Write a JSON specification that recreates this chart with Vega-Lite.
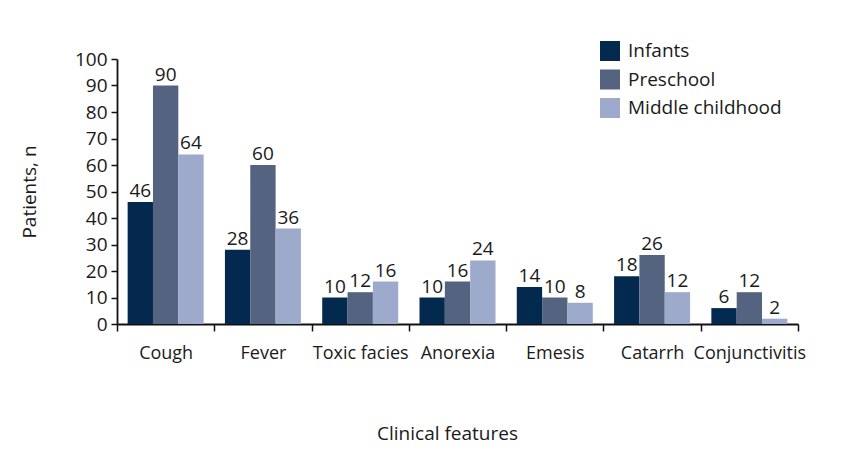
{
  "$schema": "https://vega.github.io/schema/vega-lite/v6.json",
  "width": 681,
  "height": 265,
  "autosize": {"type": "none"},
  "padding": {"left": 117, "top": 59, "right": 55, "bottom": 127},
  "background": "white",
  "config": {
    "font": "Open Sans",
    "view": {"stroke": null},
    "axis": {"labelColor": "#1a1a1a", "titleColor": "#1a1a1a", "titleFontWeight": "normal", "domainColor": "#111", "tickColor": "#111", "domainWidth": 1.8, "tickWidth": 1.5}
  },
  "data": {
    "values": [
      {"feature": "Cough", "group": "Infants", "n": 46},
      {"feature": "Cough", "group": "Preschool", "n": 90},
      {"feature": "Cough", "group": "Middle childhood", "n": 64},
      {"feature": "Fever", "group": "Infants", "n": 28},
      {"feature": "Fever", "group": "Preschool", "n": 60},
      {"feature": "Fever", "group": "Middle childhood", "n": 36},
      {"feature": "Toxic facies", "group": "Infants", "n": 10},
      {"feature": "Toxic facies", "group": "Preschool", "n": 12},
      {"feature": "Toxic facies", "group": "Middle childhood", "n": 16},
      {"feature": "Anorexia", "group": "Infants", "n": 10},
      {"feature": "Anorexia", "group": "Preschool", "n": 16},
      {"feature": "Anorexia", "group": "Middle childhood", "n": 24},
      {"feature": "Emesis", "group": "Infants", "n": 14},
      {"feature": "Emesis", "group": "Preschool", "n": 10},
      {"feature": "Emesis", "group": "Middle childhood", "n": 8},
      {"feature": "Catarrh", "group": "Infants", "n": 18},
      {"feature": "Catarrh", "group": "Preschool", "n": 26},
      {"feature": "Catarrh", "group": "Middle childhood", "n": 12},
      {"feature": "Conjunctivitis", "group": "Infants", "n": 6},
      {"feature": "Conjunctivitis", "group": "Preschool", "n": 12},
      {"feature": "Conjunctivitis", "group": "Middle childhood", "n": 2}
    ]
  },
  "encoding": {
    "x": {
      "field": "feature", "type": "nominal", "sort": null,
      "scale": {"paddingInner": 0, "paddingOuter": 0},
      "axis": {"title": "Clinical features", "labelAngle": 0, "tickBand": "extent", "tickSize": 7, "labelPadding": 13, "labelFontSize": 18, "titleFontSize": 19, "titlePadding": 62, "titleX": 330}
    },
    "xOffset": {
      "field": "group", "type": "nominal", "sort": ["Infants", "Preschool", "Middle childhood"],
      "scale": {"paddingInner": 0, "paddingOuter": 0.42}
    },
    "y": {
      "field": "n", "type": "quantitative",
      "scale": {"domain": [0, 100], "nice": false},
      "axis": {"title": "Patients, n", "values": [0,10,20,30,40,50,60,70,80,90,100], "grid": false, "tickSize": 6, "labelPadding": 4, "labelFontSize": 19, "titleFontSize": 19, "titlePadding": 35}
    }
  },
  "layer": [
    {
      "mark": {"type": "bar"},
      "encoding": {
        "color": {
          "field": "group", "type": "nominal", "sort": ["Infants", "Preschool", "Middle childhood"],
          "scale": {"domain": ["Infants", "Preschool", "Middle childhood"], "range": ["#04294f", "#546380", "#9eaacc"]},
          "legend": {"title": null, "orient": "none", "legendX": 483, "legendY": -18, "symbolType": "square", "symbolSize": 400, "symbolStrokeWidth": 0, "labelFontSize": 19, "labelOffset": 8, "rowPadding": 8.5, "padding": 0, "labelColor": "#1a1a1a"}
        }
      }
    },
    {
      "mark": {"type": "text", "baseline": "bottom", "dy": -1, "fontSize": 19, "color": "#1a1a1a"},
      "encoding": {"text": {"field": "n", "type": "quantitative"}}
    }
  ]
}
